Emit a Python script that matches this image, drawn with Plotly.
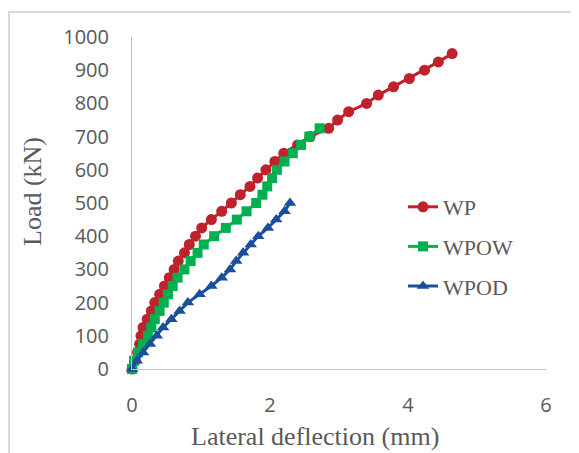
import plotly.graph_objects as go

# ---- data ----
wp_load = [0, 25, 50, 75, 100, 125, 150, 175, 200, 225, 250, 275, 300, 325, 350, 375, 400,
           425, 450, 475, 500, 525, 550, 575, 600, 625, 650, 675, 700, 725, 750, 775, 800,
           825, 850, 875, 900, 925, 950]
wp_defl = [0, 0.05, 0.08, 0.11, 0.13, 0.16, 0.22, 0.28, 0.33, 0.40, 0.47, 0.54, 0.61, 0.67,
           0.76, 0.83, 0.92, 1.01, 1.15, 1.30, 1.44, 1.57, 1.71, 1.82, 1.94, 2.07, 2.20,
           2.40, 2.58, 2.85, 2.98, 3.14, 3.40, 3.57, 3.79, 4.02, 4.24, 4.44, 4.64]

wpow_load = [0, 25, 50, 75, 100, 125, 150, 175, 200, 225, 250, 275, 300, 325, 350, 375,
             400, 425, 450, 475, 500, 525, 550, 575, 600, 625, 650, 675, 700, 725]
wpow_defl = [0, 0.03, 0.09, 0.16, 0.23, 0.28, 0.33, 0.40, 0.46, 0.52, 0.59, 0.66, 0.76,
             0.85, 0.95, 1.04, 1.19, 1.36, 1.52, 1.66, 1.80, 1.89, 1.96, 2.03, 2.10, 2.21,
             2.33, 2.45, 2.57, 2.72]

wpod_load = [0, 25, 50, 75, 100, 125, 150, 175, 200, 225, 250, 275, 300, 325, 350, 375,
             400, 425, 450, 475, 500]
wpod_defl = [0, 0.07, 0.16, 0.26, 0.36, 0.45, 0.57, 0.69, 0.81, 0.98, 1.15, 1.30, 1.42,
             1.51, 1.61, 1.72, 1.83, 1.97, 2.09, 2.21, 2.29]

series_names = ["WP", "WPOW", "WPOD"]
x_ticks = [0, 2, 4, 6]
y_ticks = list(range(0, 1001, 100))

# ---- styles ----
RED = "#C0212B"
GREEN = "#00B050"
BLUE = "#1B4F9B"
GRAY_TXT = "#595959"
AXIS = "#BFBFBF"

fig = go.Figure()
fig.add_trace(go.Scatter(x=wp_defl, y=wp_load, name=series_names[0], mode="lines+markers",
                         line=dict(color=RED, width=3), legendgroup="a",
                         marker=dict(symbol="circle", size=11, color=RED), cliponaxis=False))
fig.add_trace(go.Scatter(x=wpow_defl, y=wpow_load, name=series_names[1], mode="lines+markers",
                         line=dict(color=GREEN, width=3), legendgroup="b",
                         marker=dict(symbol="square", size=10, color=GREEN), cliponaxis=False))
fig.add_trace(go.Scatter(x=wpod_defl, y=wpod_load, name=series_names[2], mode="lines+markers",
                         line=dict(color=BLUE, width=3), legendgroup="c",
                         marker=dict(symbol="triangle-up", size=11, color=BLUE), cliponaxis=False))

# page has an 8px body margin: work in figure coordinates (page - 8)
OFF = 8
W, H = 579 - OFF, 453 - OFF
L, T = 132 - OFF, 37 - OFF
pw, ph = 414, 332
R, B = W - L - pw, H - T - ph


def px(xp):
    return (xp - OFF - L) / pw


def py(yp):
    return (T + ph - (yp - OFF)) / ph


fig.update_layout(
    width=W, height=H,
    margin=dict(l=L, r=R, t=T, b=B),
    paper_bgcolor="white", plot_bgcolor="white",
    font=dict(family="Open Sans", color=GRAY_TXT),
    showlegend=True,
    legend=dict(x=px(403), y=py(186), xanchor="left", yanchor="top",
                font=dict(family="Liberation Serif", size=22, color=GRAY_TXT),
                tracegroupgap=8, bgcolor="rgba(0,0,0,0)"),
    xaxis=dict(range=[0, 6], tickvals=x_ticks, showgrid=False, zeroline=False,
               showline=True, linecolor=AXIS, linewidth=1,
               ticks="outside", ticklen=18, tickcolor="rgba(0,0,0,0)",
               tickfont=dict(family="Open Sans", size=20, color=GRAY_TXT)),
    yaxis=dict(range=[0, 1000], tickvals=y_ticks, showgrid=False, zeroline=False,
               showline=True, linecolor=AXIS, linewidth=1,
               ticks="outside", ticklen=18, tickcolor="rgba(0,0,0,0)",
               tickfont=dict(family="Open Sans", size=20, color=GRAY_TXT)),
    annotations=[
        dict(text="Lateral deflection (mm)", xref="paper", yref="paper",
             x=px(315), y=py(436), xanchor="center", yanchor="middle",
             showarrow=False, font=dict(family="Liberation Serif", size=26, color=GRAY_TXT)),
        dict(text="Load (kN)", xref="paper", yref="paper",
             x=px(32), y=py(192), xanchor="center", yanchor="middle",
             textangle=-90, showarrow=False,
             font=dict(family="Liberation Serif", size=26, color=GRAY_TXT)),
    ],
    shapes=[
        dict(type="line", xref="paper", yref="paper", x0=px(8), x1=px(600),
             y0=py(12), y1=py(12), line=dict(color="#D9D9D9", width=2)),
        dict(type="line", xref="paper", yref="paper", x0=px(9), x1=px(9),
             y0=py(12), y1=py(470), line=dict(color="#D9D9D9", width=2)),
    ],
)

fig.write_html("out.html")
